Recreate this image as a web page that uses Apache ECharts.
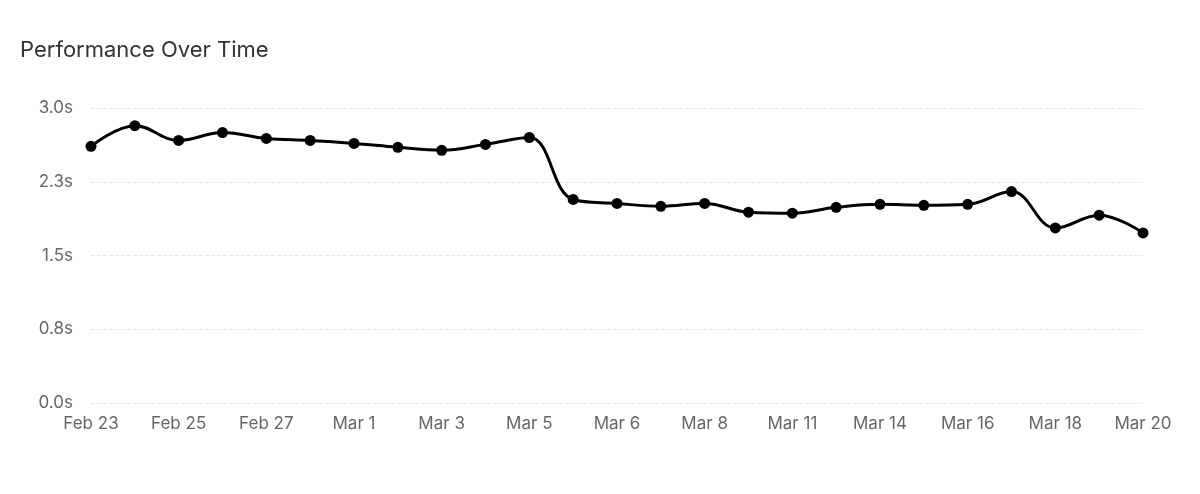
<!DOCTYPE html>
<html><head><meta charset="utf-8">
<script src="https://cdn.jsdelivr.net/npm/echarts@6/dist/echarts.min.js"></script>
<style>html,body{margin:0;background:#fff}#c{width:1200px;height:494px}</style>
</head><body><div id="c"></div>
<script>
const categories = ["Feb 23","Feb 24","Feb 25","Feb 26","Feb 27","Feb 28","Mar 1","Mar 2","Mar 3","Mar 4","Mar 5","Mar 5 PM","Mar 6","Mar 7","Mar 8","Mar 9","Mar 11","Mar 12","Mar 14","Mar 15","Mar 16","Mar 17","Mar 18","Mar 19","Mar 20"];
const values = [2.61,2.82,2.67,2.75,2.69,2.67,2.64,2.60,2.57,2.63,2.70,2.07,2.03,2.00,2.03,1.94,1.93,1.99,2.02,2.01,2.02,2.15,1.78,1.91,1.73];
const chart = echarts.init(document.getElementById('c'));
chart.setOption({
  animation:false,
  title:{text:'Performance Over Time',left:15,top:34,textStyle:{fontFamily:'Inter, Roboto, sans-serif',fontSize:22,fontWeight:'normal',color:'#333'}},
  grid:{left:91,right:57,top:108,bottom:91},
  xAxis:{type:'category',data:categories,boundaryGap:false,
    axisLine:{show:false},axisTick:{show:false},
    axisLabel:{interval:1,color:'#666',fontSize:17,fontFamily:'Inter, Roboto, sans-serif',margin:12}},
  yAxis:{type:'value',min:0,max:3,interval:0.75,
    axisLabel:{formatter:v=>v.toFixed(1)+'s',color:'#666',fontSize:17,fontFamily:'Inter, Roboto, sans-serif',margin:18},
    splitLine:{lineStyle:{type:'dashed',color:'#e6e6e6'}}},
  series:[{type:'line',data:values,smooth:0.4,symbol:'circle',symbolSize:11,
    lineStyle:{color:'#000',width:3},itemStyle:{color:'#000'}}]
});
</script></body></html>
